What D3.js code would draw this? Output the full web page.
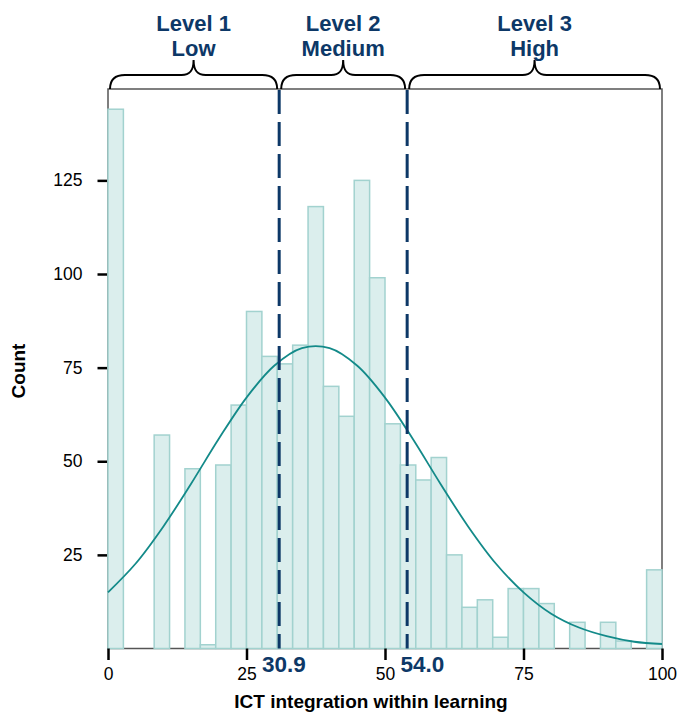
<!DOCTYPE html>
<html>
<head>
<meta charset="utf-8">
<script src="https://cdn.jsdelivr.net/npm/d3@7"></script>
<style>
  body { margin: 0; background: #fff; }
  svg { display: block; font-family: "Liberation Sans", Arial, sans-serif; }
</style>
</head>
<body>
<div id="chart"></div>
<script>
// histogram counts, 36 equal bins over 0..100
const binCounts = [144, 0, 0, 57, 0, 48, 1, 49, 65, 90, 78, 76, 81, 118, 70, 62, 125, 99,
                   60, 49, 45, 51, 25, 11, 13, 3, 16, 16, 12, 0, 7, 0, 7, 2, 0, 21];
// fitted curve
const curveX = [0, 5, 10, 15, 20, 25, 30, 35, 40, 45, 50, 55, 60, 65, 70, 75, 80, 85, 90, 95, 100];
const curveY = [15, 22.7, 32.6, 44, 56, 67, 75.5, 80.2, 80.2, 75.5, 67, 56, 44, 32.6, 22.7, 15, 9.3, 5.6, 3.3, 1.8, 1.2];
const cutPoints = [30.9, 54.0];
const cutLabels = ['30.9', '54.0'];
const levelTop = ['Level 1', 'Level 2', 'Level 3'];
const levelBottom = ['Low', 'Medium', 'High'];
const xTicks = [0, 25, 50, 75, 100];
const yTicks = [25, 50, 75, 100, 125];

const W = 680, H = 715;
const navy = '#0d3867';

const svg = d3.select('#chart').append('svg').attr('width', W).attr('height', H);

const x = d3.scaleLinear().domain([0, 100]).range([108, 662]);
const y = d3.scaleLinear().domain([0, 149.4]).range([648.5, 89]);
const binW = 100 / binCounts.length;

// frame
svg.append('rect')
  .attr('x', x(0)).attr('y', y(149.4))
  .attr('width', x(100) - x(0)).attr('height', y(0) - y(149.4))
  .attr('fill', 'none').attr('stroke', '#555').attr('stroke-width', 1.5);

// bars
svg.append('g').selectAll('rect')
  .data(binCounts.map((c, i) => ({ c, i })).filter(d => d.c > 0))
  .join('rect')
  .attr('x', d => x(d.i * binW))
  .attr('y', d => y(d.c))
  .attr('width', d => x((d.i + 1) * binW) - x(d.i * binW))
  .attr('height', d => y(0) - y(d.c))
  .attr('fill', '#dbeeed').attr('stroke', '#a2d2cf').attr('stroke-width', 1.5);

// curve
svg.append('path')
  .datum(curveX.map((v, i) => [v, curveY[i]]))
  .attr('fill', 'none').attr('stroke', '#138a89').attr('stroke-width', 1.8)
  .attr('d', d3.line().x(d => x(d[0])).y(d => y(d[1])).curve(d3.curveCatmullRom));

// cut lines
svg.append('g').selectAll('line').data(cutPoints).join('line')
  .attr('x1', d => x(d)).attr('x2', d => x(d))
  .attr('y1', y(149.4) + 1).attr('y2', y(0))
  .attr('stroke', navy).attr('stroke-width', 3).attr('stroke-dasharray', '24,8');

// cut labels, placed just right of the preceding tick label
svg.append('g').selectAll('text').data(cutPoints).join('text')
  .attr('x', d => x(Math.floor(d / 25) * 25) + 15.5)
  .attr('y', 672)
  .attr('fill', navy).attr('font-size', 22.5).attr('font-weight', 'bold')
  .text((d, i) => cutLabels[i]);

// axes
const xAxis = svg.append('g').attr('transform', `translate(0,${y(0)})`)
  .call(d3.axisBottom(x).tickValues(xTicks).tickSize(11.5).tickPadding(7.5).tickFormat(d3.format('d')));
const yAxis = svg.append('g').attr('transform', `translate(${x(0) - 1},0)`)
  .call(d3.axisLeft(y).tickValues(yTicks).tickSize(9.5).tickPadding(15));
[xAxis, yAxis].forEach(a => {
  a.select('.domain').remove();
  a.selectAll('.tick line').attr('stroke', '#000').attr('stroke-width', 2.5);
  a.selectAll('.tick text').attr('fill', '#000').attr('font-size', 17.5)
    .attr('font-family', '"Liberation Sans", Arial, sans-serif');
});

// axis titles
svg.append('text')
  .attr('x', (x(0) + x(100)) / 2 - 14).attr('y', 708)
  .attr('text-anchor', 'middle').attr('font-size', 19).attr('font-weight', 'bold')
  .text('ICT integration within learning');
svg.append('text')
  .attr('transform', 'translate(25,371) rotate(-90)')
  .attr('text-anchor', 'middle').attr('font-size', 19).attr('font-weight', 'bold')
  .text('Count');

// braces over the three levels
const edges = [0, ...cutPoints, 100];
function brace(x0, x1) {
  const yb = 89, ym = 75, yt = 60, xm = (x0 + x1) / 2;
  return `M${x0},${yb} C${x0},${yb - 9} ${x0 + 4},${ym} ${x0 + 15},${ym}` +
    ` L${xm - 12},${ym} C${xm - 4},${ym} ${xm},${ym - 4} ${xm},${yt}` +
    ` C${xm},${ym - 4} ${xm + 4},${ym} ${xm + 12},${ym}` +
    ` L${x1 - 15},${ym} C${x1 - 4},${ym} ${x1},${yb - 9} ${x1},${yb}`;
}
const levels = levelTop.map((t, i) => ({ t, b: levelBottom[i], x0: x(edges[i]), x1: x(edges[i + 1]) }));

svg.append('g').selectAll('path').data(levels).join('path')
  .attr('d', d => brace(d.x0 + 2, d.x1 - 2))
  .attr('fill', 'none').attr('stroke', '#000').attr('stroke-width', 2);

const lab = svg.append('g').selectAll('text').data(levels).join('text')
  .attr('text-anchor', 'middle').attr('fill', navy)
  .attr('font-size', 22).attr('font-weight', 'bold');
lab.append('tspan').attr('x', d => (d.x0 + d.x1) / 2).attr('y', 31).text(d => d.t);
lab.append('tspan').attr('x', d => (d.x0 + d.x1) / 2).attr('y', 56).text(d => d.b);
</script>
</body>
</html>
